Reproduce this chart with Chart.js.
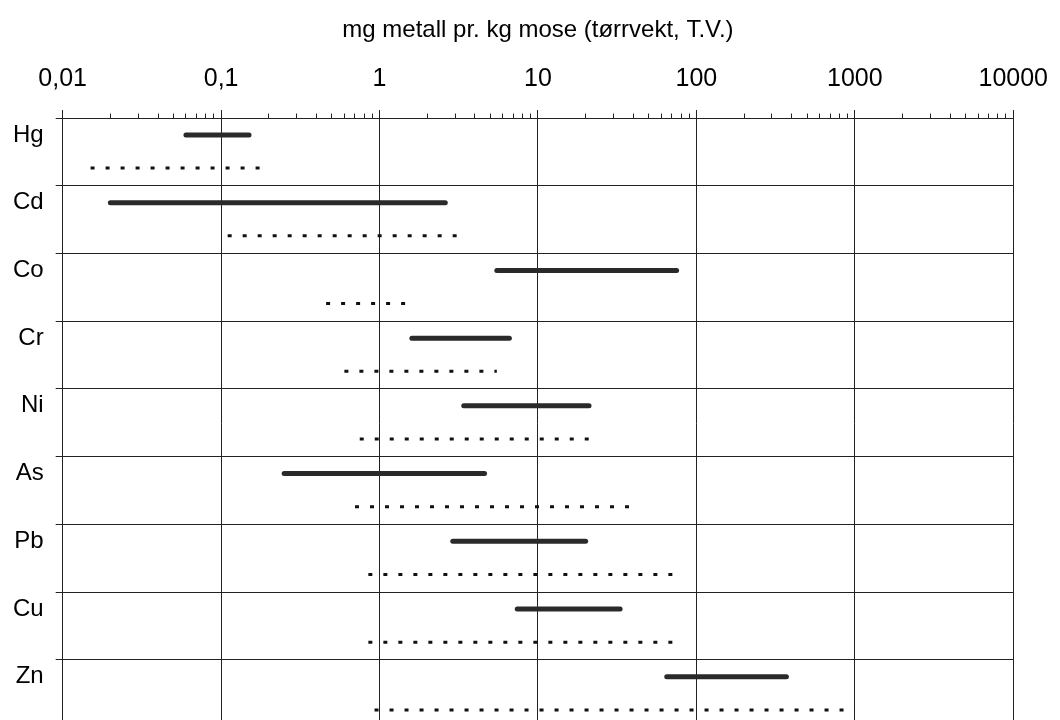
<!DOCTYPE html>
<html>
<head>
<meta charset="utf-8">
<script src="https://cdn.jsdelivr.net/npm/chart.js@4/dist/chart.umd.min.js"></script>
<style>
  html, body { margin: 0; padding: 0; background: #fff; overflow: hidden; }
  canvas { display: block; }
</style>
</head>
<body>
<canvas id="c" width="1060" height="754"></canvas>
<script>
// ---- data ----
const metals     = ['Hg', 'Cd', 'Co', 'Cr', 'Ni', 'As', 'Pb', 'Cu', 'Zn'];
// solid bar: range measured
const solidMin   = [0.06, 0.02, 5.5, 1.6, 3.4, 0.25, 2.9, 7.4, 65];
const solidMax   = [0.15, 2.6, 75, 6.6, 21, 4.6, 20, 33, 370];
// dotted line: reference range
const dottedMin  = [0.015, 0.11, 0.46, 0.6, 0.75, 0.7, 0.85, 0.85, 0.93];
const dottedMax  = [0.18, 3.1, 1.5, 5.5, 22, 40, 78, 80, 1000];
// axis ticks
const tickValues = [0.01, 0.1, 1, 10, 100, 1000, 10000];
const tickLabels = ['0,01', '0,1', '1', '10', '100', '1000', '10000'];
const axisTitle  = 'mg metall pr. kg mose (tørrvekt, T.V.)';

// ---- build ----
const FONT = "'Liberation Sans', Arial, Helvetica, sans-serif";
const SOLID_OFF = 0.25, DOT_OFF = 0.74;

const minorTicks = [];
for (let k = 0; k < tickValues.length - 1; k++) {
  for (let m = 2; m <= 9; m++) minorTicks.push(tickValues[k] * m);
}
const allXTicks = tickValues.concat(minorTicks).sort((a, b) => a - b);
const majorIndex = v => tickValues.findIndex(t => Math.abs(t - v) / t < 1e-9);

const datasets = [];
metals.forEach((m, i) => {
  datasets.push({
    label: m + ' (solid)',
    data: [{x: solidMin[i], y: i + SOLID_OFF}, {x: solidMax[i], y: i + SOLID_OFF}],
    showLine: true, borderColor: '#2a2a2a', borderWidth: 5,
    borderCapStyle: 'round', pointRadius: 0
  });
  datasets.push({
    label: m + ' (dotted)',
    data: [{x: dottedMin[i], y: i + DOT_OFF}, {x: dottedMax[i], y: i + DOT_OFF}],
    showLine: true, borderColor: '#111', borderWidth: 3,
    borderDash: [4, 11], borderCapStyle: 'butt', pointRadius: 0
  });
});

const isInt = v => Math.abs(v - Math.round(v)) < 1e-6;

new Chart(document.getElementById('c'), {
  type: 'scatter',
  data: { datasets },
  options: {
    responsive: false,
    animation: false,
    layout: { padding: { left: 1, right: 46.7, top: 0, bottom: 0 } },
    plugins: { legend: { display: false }, tooltip: { enabled: false } },
    scales: {
      x: {
        type: 'logarithmic',
        position: 'top',
        min: 0.01, max: 10000,
        afterBuildTicks: s => { s.ticks = allXTicks.map(v => ({ value: v })); },
        ticks: {
          autoSkip: false, maxRotation: 0, padding: 12,
          color: '#000',
          font: { family: FONT, size: 25, lineHeight: 1.52 },
          callback: v => { const i = majorIndex(v); return i >= 0 ? tickLabels[i] : ''; }
        },
        grid: {
          drawTicks: true, tickLength: 8,
          color: c => (c.tick && majorIndex(c.tick.value) >= 0) ? '#222' : 'rgba(0,0,0,0)',
          tickColor: '#222',
          tickBorderDash: c => (c.tick && majorIndex(c.tick.value) >= 0) ? [] : [0, 3.5, 10, 100],
          lineWidth: 1
        },
        border: { display: true, color: '#222', width: 1 },
        title: {
          display: true, text: axisTitle, color: '#000',
          font: { family: FONT, size: 24 },
          padding: { top: 15.6, bottom: 3.6 }
        }
      },
      y: {
        type: 'linear',
        reverse: true,
        min: 0, max: metals.length,
        afterBuildTicks: s => {
          const t = [];
          for (let i = 0; i <= metals.length; i++) t.push({ value: i });
          metals.forEach((m, i) => t.push({ value: i + SOLID_OFF }));
          s.ticks = t;
        },
        ticks: {
          autoSkip: false, padding: 12, color: '#000',
          font: { family: FONT, size: 24 },
          callback: v => isInt(v) ? '' : metals[Math.floor(v)]
        },
        grid: {
          drawTicks: true, tickLength: 7,
          color: c => (c.tick && isInt(c.tick.value)) ? '#222' : 'rgba(0,0,0,0)',
          tickColor: c => (c.tick && isInt(c.tick.value)) ? '#222' : 'rgba(0,0,0,0)',
          lineWidth: 1
        },
        border: { display: true, color: '#222', width: 1 }
      }
    }
  }
});
</script>
</body>
</html>
